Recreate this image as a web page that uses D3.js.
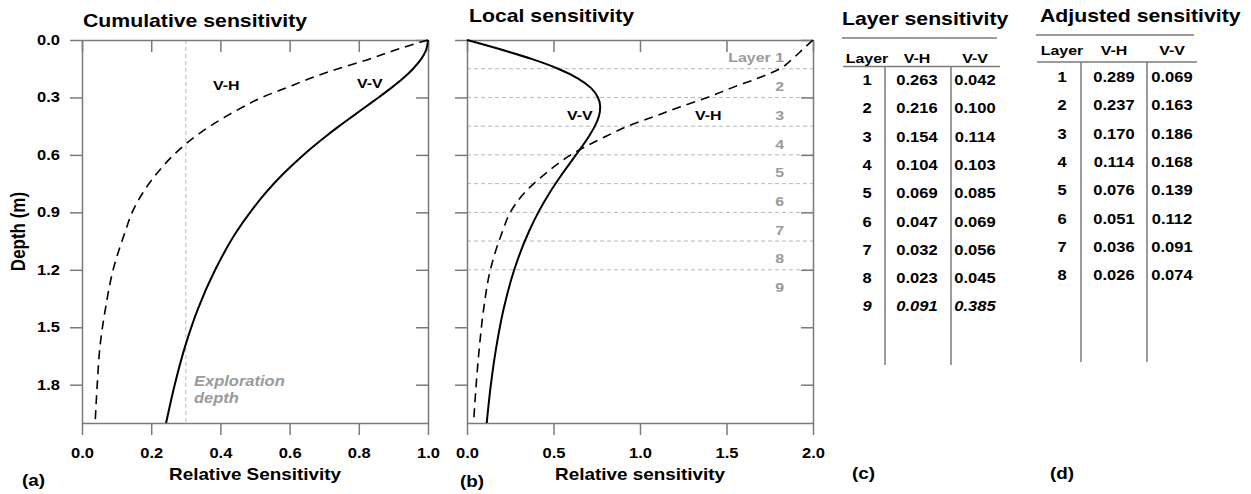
<!DOCTYPE html>
<html>
<head>
<meta charset="utf-8">
<script src="https://cdn.jsdelivr.net/npm/d3@7"></script>
<style>
body { margin: 0; background: #fff; }
text { font-family: "Liberation Sans", Arial, sans-serif; font-weight: bold; }
</style>
</head>
<body>
<div id="container"></div>
<script>
let w = 1251;
let h = 494;
const SX = 1.18; // the source figure's lettering is a bit wider than normal

// ---- data ----
let depth = [0, 0.05, 0.1, 0.15, 0.2, 0.25, 0.3, 0.35, 0.4, 0.45, 0.5, 0.6, 0.7, 0.8, 0.9, 1.0, 1.2, 1.4, 1.6, 1.8, 2.0];
let cumVV = [1.00, 0.995, 0.98, 0.957, 0.928, 0.894, 0.857, 0.819, 0.781, 0.743, 0.707, 0.64, 0.581, 0.53, 0.486, 0.447, 0.385, 0.336, 0.298, 0.268, 0.243];
let cumVH = [1.00, 0.91, 0.83, 0.74, 0.66, 0.59, 0.52, 0.465, 0.415, 0.37, 0.33, 0.265, 0.215, 0.175, 0.145, 0.125, 0.09, 0.068, 0.052, 0.044, 0.038];
let locVV = [0, 0.197, 0.377, 0.527, 0.64, 0.716, 0.757, 0.77, 0.762, 0.739, 0.707, 0.63, 0.55, 0.476, 0.412, 0.358, 0.273, 0.213, 0.17, 0.138, 0.114];
let locVH = [2.0, 1.94, 1.88, 1.81, 1.68, 1.53, 1.39, 1.23, 1.08, 0.93, 0.81, 0.60, 0.45, 0.33, 0.25, 0.205, 0.135, 0.097, 0.072, 0.053, 0.038];

let layerBounds = [0.15, 0.3, 0.45, 0.6, 0.75, 0.9, 1.05, 1.2];
let layerMids = [0.075, 0.225, 0.375, 0.525, 0.675, 0.825, 0.975, 1.125, 1.275];
let layerLabels = ["Layer 1", "2", "3", "4", "5", "6", "7", "8", "9"];

let depthTicks = [0, 0.3, 0.6, 0.9, 1.2, 1.5, 1.8];
let cumTicks = [0, 0.2, 0.4, 0.6, 0.8, 1.0];
let locTicks = [0, 0.5, 1.0, 1.5, 2.0];
let explorationValue = 0.3;

let tableHead = ["Layer", "V-H", "V-V"];
let layerNo = ["1", "2", "3", "4", "5", "6", "7", "8", "9"];
let layerVH = ["0.263", "0.216", "0.154", "0.104", "0.069", "0.047", "0.032", "0.023", "0.091"];
let layerVV = ["0.042", "0.100", "0.114", "0.103", "0.085", "0.069", "0.056", "0.045", "0.385"];
let adjNo = ["1", "2", "3", "4", "5", "6", "7", "8"];
let adjVH = ["0.289", "0.237", "0.170", "0.114", "0.076", "0.051", "0.036", "0.026"];
let adjVV = ["0.069", "0.163", "0.186", "0.168", "0.139", "0.112", "0.091", "0.074"];

let axisColor = "#7a7a7a";
let lightGray = "#b8b8b8";
let labelGray = "#9a9a9a";

let viz = d3.select("#container").append("svg")
    .attr("width", w)
    .attr("height", h)
    .style("background-color", "white");

// text helper, stretched sideways like the original
function say(g, x, y, txt, size, anchor, fill, italic) {
  return g.append("text")
      .attr("transform", "translate(" + x + "," + y + ") scale(" + SX + ",1)")
      .attr("text-anchor", anchor || "start")
      .style("font-size", size + "px")
      .style("font-style", italic ? "italic" : "normal")
      .attr("fill", fill || "black")
      .text(txt);
}

// shared depth scale
let yScale = d3.scaleLinear().domain([0, 2]).range([40, 423]);

function frame(xScale, xTicks, showDepthLabels) {
  let g = viz.append("g");
  let x0 = xScale.range()[0], x1 = xScale.range()[1];
  let y0 = yScale.range()[0], y1 = yScale.range()[1];

  let bottom = g.append("g")
      .attr("transform", "translate(0," + y1 + ")")
      .call(d3.axisBottom(xScale).tickValues(xTicks).tickSize(12).tickSizeOuter(0).tickPadding(13).tickFormat(d3.format(".1f")));
  let top = g.append("g")
      .attr("transform", "translate(0," + y0 + ")")
      .call(d3.axisBottom(xScale).tickValues(xTicks).tickSize(12).tickSizeOuter(0).tickFormat(""));
  let left = g.append("g")
      .attr("transform", "translate(" + x0 + ",0)")
      .call(d3.axisLeft(yScale).tickValues(depthTicks).tickSize(12).tickSizeOuter(0).tickPadding(10)
        .tickFormat(showDepthLabels ? d3.format(".1f") : ""));
  let right = g.append("g")
      .attr("transform", "translate(" + x1 + ",0)")
      .call(d3.axisLeft(yScale).tickValues(depthTicks).tickSize(12).tickSizeOuter(0).tickFormat(""));

  [bottom, top, left, right].forEach(a => {
    a.selectAll("path, line").attr("stroke", axisColor).attr("stroke-width", 1.5);
    a.selectAll("text")
        .attr("fill", "black")
        .style("font-size", "14px")
        .style("font-family", "'Liberation Sans', Arial, sans-serif")
        .style("font-weight", "bold");
  });
  bottom.selectAll("text").attr("transform", "scale(" + SX + ",1)");
  left.selectAll("text").attr("x", -22 / SX).attr("transform", "scale(" + SX + ",1)");
  return g;
}

function curve(xScale, values, dashed) {
  let line = d3.line()
      .x((d, i) => xScale(values[i]))
      .y(d => yScale(d))
      .curve(d3.curveMonotoneY);
  viz.append("path")
      .datum(depth)
      .attr("d", line)
      .attr("fill", "none")
      .attr("stroke", "black")
      .attr("stroke-width", dashed ? 1.6 : 2)
      .attr("stroke-dasharray", dashed ? "9,6" : null);
}

// ---- (a) cumulative sensitivity ----
let xCum = d3.scaleLinear().domain([0, 1]).range([82, 428]);

viz.append("line")
    .attr("x1", xCum(explorationValue)).attr("x2", xCum(explorationValue))
    .attr("y1", yScale(0)).attr("y2", yScale(2))
    .attr("stroke", lightGray).attr("stroke-width", 1).attr("stroke-dasharray", "4,3");

frame(xCum, cumTicks, true);
curve(xCum, cumVH, true);
curve(xCum, cumVV, false);

say(viz, 83, 27, "Cumulative sensitivity", 18);
say(viz, 213, 90, "V-H", 13.5);
say(viz, 357, 88, "V-V", 13.5);
say(viz, 194, 386, "Exploration", 14, "start", labelGray, true);
say(viz, 194, 403, "depth", 14, "start", labelGray, true);
say(viz, 255, 480, "Relative Sensitivity", 16, "middle");
say(viz, 22, 486, "(a)", 16);

viz.append("text")
    .attr("transform", "translate(25," + ((yScale(0) + yScale(2)) / 2) + ") rotate(-90) scale(1," + SX + ")")
    .attr("text-anchor", "middle")
    .style("font-size", "17px")
    .text("Depth (m)");

// ---- (b) local sensitivity ----
let xLoc = d3.scaleLinear().domain([0, 2]).range([467, 813]);

viz.append("g").selectAll("line").data(layerBounds).enter()
  .append("line")
    .attr("x1", xLoc(0)).attr("x2", xLoc(2))
    .attr("y1", d => yScale(d)).attr("y2", d => yScale(d))
    .attr("stroke", lightGray).attr("stroke-width", 1).attr("stroke-dasharray", "4,3");

frame(xLoc, locTicks, false);
curve(xLoc, locVH, true);
curve(xLoc, locVV, false);

layerMids.forEach((d, i) => {
  say(viz, 784, yScale(d) + 8, layerLabels[i], 13.5, "end", labelGray);
});

say(viz, 469, 22, "Local sensitivity", 18);
say(viz, 567, 120, "V-V", 13.5);
say(viz, 695, 120, "V-H", 13.5);
say(viz, 640, 480, "Relative sensitivity", 16, "middle");
say(viz, 460, 487, "(b)", 16);

// ---- tables ----
function table(opts) {
  let g = viz.append("g");
  let rowY = d3.scaleLinear().domain([0, opts.rows.length - 1])
      .range([opts.firstRow, opts.firstRow + 28.3 * (opts.rows.length - 1)]);

  say(g, opts.titleX, opts.titleY, opts.title, 18);

  g.append("line").attr("x1", opts.x0).attr("x2", opts.x1 - 3)
      .attr("y1", opts.topLine).attr("y2", opts.topLine)
      .attr("stroke", axisColor).attr("stroke-width", 1.5);
  g.append("line").attr("x1", opts.x0 + 1).attr("x2", opts.x1)
      .attr("y1", opts.headLine).attr("y2", opts.headLine)
      .attr("stroke", axisColor).attr("stroke-width", 1.5);
  opts.dividers.forEach(x => {
    g.append("line").attr("x1", x).attr("x2", x)
        .attr("y1", opts.headLine).attr("y2", opts.bottom)
        .attr("stroke", axisColor).attr("stroke-width", 1.5);
  });

  tableHead.forEach((t, j) => say(g, opts.cols[j], opts.headY, t, 13.5, "middle"));

  let cells = [opts.rows, opts.vh, opts.vv];
  opts.rows.forEach((r, i) => {
    cells.forEach((col, j) => {
      say(g, opts.cols[j], rowY(i) + 5, col[i], 14, "middle", "black", opts.italicRow === i);
    });
  });
  say(g, opts.tagX, 479, opts.tag, 16);
}

table({
  title: "Layer sensitivity", titleX: 842, titleY: 25,
  x0: 842, x1: 1000, topLine: 38, headLine: 66.5, headY: 63, bottom: 365,
  dividers: [885, 951], cols: [867, 917, 975], firstRow: 80,
  rows: layerNo, vh: layerVH, vv: layerVV, italicRow: 8,
  tag: "(c)", tagX: 852
});

table({
  title: "Adjusted sensitivity", titleX: 1040, titleY: 22,
  x0: 1036, x1: 1197, topLine: 35, headLine: 62, headY: 55, bottom: 362,
  dividers: [1081, 1147], cols: [1062, 1114, 1172], firstRow: 77,
  rows: adjNo, vh: adjVH, vv: adjVV, italicRow: -1,
  tag: "(d)", tagX: 1050
});
</script>
</body>
</html>
